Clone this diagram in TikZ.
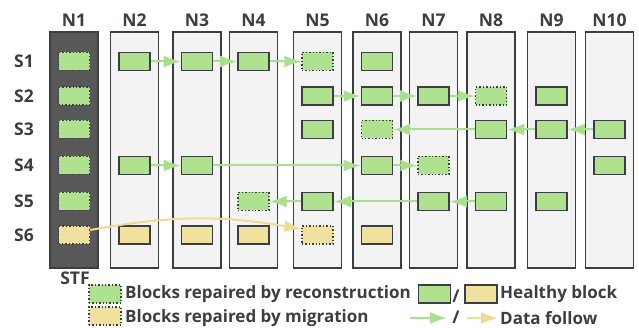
\documentclass[tikz,border=0pt]{standalone}
\usepackage{fontspec}
\setmainfont{Open Sans}
\usetikzlibrary{arrows.meta,positioning}

\definecolor{edgegray}{HTML}{3B3F42}
\definecolor{colgray}{HTML}{F3F3F3}
\definecolor{stfgray}{HTML}{585858}
\definecolor{blockgreen}{HTML}{AEE28E}
\definecolor{blockyellow}{HTML}{F0E19E}
\definecolor{flowgreen}{HTML}{A8E08E}
\definecolor{flowyellow}{HTML}{EFDB92}

\begin{document}
\begin{tikzpicture}[x=1pt, y=1pt,
    column/.style={rectangle, draw=edgegray, line width=1.3pt, fill=colgray, minimum width=48pt, minimum height=236pt, inner sep=0pt},
    okblock/.style={rectangle, draw=edgegray, line width=1.7pt, minimum width=31pt, minimum height=18pt, inner sep=0pt},
    fixblock/.style={rectangle, draw=edgegray, line width=1.4pt, dotted, minimum width=31pt, minimum height=18pt, inner sep=0pt},
    okgreen/.style={okblock, fill=blockgreen},
    okyellow/.style={okblock, fill=blockyellow},
    fixgreen/.style={fixblock, fill=blockgreen},
    fixyellow/.style={fixblock, fill=blockyellow},
    heading/.style={font=\fontsize{17.5}{20}\selectfont\bfseries, text=edgegray, inner sep=0pt},
    keytext/.style={font=\fontsize{17}{20}\selectfont\bfseries, text=edgegray, inner sep=0pt, anchor=west},
    repairarrow/.style={draw=flowgreen, line width=2pt, -{Latex[length=17pt, width=12pt]}},
    movearrow/.style={draw=flowyellow, line width=2pt, -{Latex[length=17pt, width=12pt]}}
]
    \useasboundingbox (0,0) rectangle (639,-328);

    % nodes (columns)
    \node[column, fill=stfgray] (n1) at (74,-150) {};
    \foreach \i/\x in {2/134.5, 3/197, 4/253.5, 5/317.5, 6/377, 7/433.5, 8/491, 9/551.5, 10/609.5}
        \node[column] (n\i) at (\x,-150) {};
    \foreach \i/\x in {1/74, 2/134.5, 3/197, 4/253.5, 5/317.5, 6/377, 7/433.5, 8/491, 9/551.5, 10/609.5}
        \node[heading] (t\i) at (\x,-20) {N\i};
    \node[heading] (stf) at (75,-278) {STF};

    % stripes
    \foreach \j/\y in {1/61.5, 2/96, 3/129.5, 4/165.5, 5/201.5, 6/235}
        \node[heading] (s\j) at (24,-\y) {S\j};

    % blocks
    \foreach \c/\r in {2/1, 3/1, 4/1, 6/1, 5/2, 6/2, 7/2, 9/2, 5/3, 8/3, 9/3, 10/3,
                       2/4, 3/4, 6/4, 10/4, 5/5, 7/5, 8/5, 9/5}
        \node[okgreen] (b\c-\r) at (n\c |- s\r) {};
    \foreach \c/\r in {1/1, 1/2, 1/3, 1/4, 1/5, 5/1, 8/2, 6/3, 7/4, 4/5}
        \node[fixgreen] (b\c-\r) at (n\c |- s\r) {};
    \foreach \c in {2, 3, 4, 6}
        \node[okyellow] (b\c-6) at (n\c |- s6) {};
    \foreach \c in {1, 5}
        \node[fixyellow] (b\c-6) at (n\c |- s6) {};

    % repair flows
    \draw[repairarrow] (b2-1) -- (b3-1);
    \draw[repairarrow] (b3-1) -- (b4-1);
    \draw[repairarrow] (b4-1) -- (b5-1);
    \draw[repairarrow] (b5-2) -- (b6-2);
    \draw[repairarrow] (b6-2) -- (b7-2);
    \draw[repairarrow] (b7-2) -- (b8-2);
    \draw[repairarrow] (b10-3) -- (b9-3);
    \draw[repairarrow] (b9-3) -- (b8-3);
    \draw[repairarrow] (b8-3) -- (b6-3);
    \draw[repairarrow] (b2-4) -- (b3-4);
    \draw[repairarrow] (b3-4) -- (b6-4);
    \draw[repairarrow] (b6-4) -- (b7-4);
    \draw[repairarrow] (b8-5) -- (b7-5);
    \draw[repairarrow] (b7-5) -- (b5-5);
    \draw[repairarrow] (b5-5) -- (b4-5);
    \draw[movearrow] ([yshift=5pt]b1-6.east) to[bend left=10] ([yshift=6pt]b5-6.west);

    % legend
    \node[fixgreen, minimum width=32pt] (keyrec) at (105,-294) {};
    \node[keytext] (txtrec) at (125,-294) {Blocks repaired by reconstruction};
    \node[fixyellow, minimum width=32pt] (keymig) at (105,-316) {};
    \node[keytext] (txtmig) at (125,-318) {Blocks repaired by migration};
    \node[okgreen, minimum width=32pt] (keyokg) at (434.5,-294) {};
    \node[heading] (slash1) at (456,-296) {/};
    \node[okyellow, minimum width=32pt] (keyoky) at (481,-294) {};
    \node[keytext] (txtok) at (500,-294) {Healthy block};
    \coordinate (fga) at (410,-318);
    \coordinate (fgb) at (447,-318);
    \coordinate (fya) at (467,-318);
    \coordinate (fyb) at (498,-318);
    \draw[repairarrow] (fga) -- (fgb);
    \node[heading] (slash2) at (456,-317) {/};
    \draw[movearrow] (fya) -- (fyb);
    \node[keytext] (txtflow) at (500,-318) {Data follow};
\end{tikzpicture}
\end{document}
